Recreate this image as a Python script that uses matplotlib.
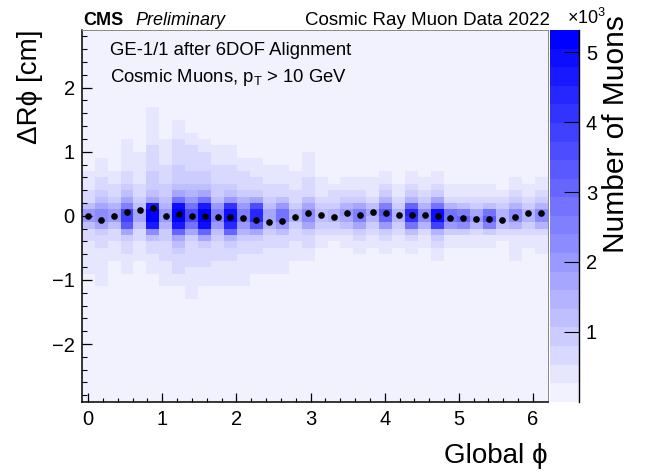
import numpy as np
import matplotlib.pyplot as plt
from matplotlib.colors import ListedColormap, BoundaryNorm
from matplotlib.ticker import MultipleLocator

plt.rcParams['font.family'] = ['Liberation Sans', 'DejaVu Sans']
plt.rcParams['mathtext.fontset'] = 'custom'
plt.rcParams['mathtext.rm'] = 'Liberation Sans'
plt.rcParams['mathtext.it'] = 'Liberation Sans:italic'

# histogram binning: 36 phi bins (one per chamber), 0.1 cm bins in delta R-phi
n_phi = 36
y_top = 1.7
y_step = 0.1
n_rows = 30
z_max = 5320
n_levels = 20

# colour level (0-9, a-j) of every filled cell, read column by column from the top row down
col_top_row = [10, 8, 10, 5, 7, 0, 5, 2, 4, 5, 6, 6, 8, 8, 9, 9, 10, 7,
               11, 12, 11, 11, 11, 10, 12, 10, 11, 10, 12, 12, 12, 12, 13, 11, 12, 11]
col_levels = [
    "1112247742211111",
    "11122346886322111111",
    "11223577422111",
    "11111223469eec6322111",
    "11111223466422111",
    "111111222233346hjjh8422111",
    "11112223345775332221111",
    "111222233346aijjhb64322211",
    "11222233457adda63222211111",
    "112223346ahjjib63222111",
    "1112223347997432221111",
    "111222347fiigb53221111",
    "11222357997532211111",
    "1112236dggc6322111",
    "11122346653221111",
    "1112247aa74221111",
    "11122355322111",
    "11112224688632211",
    "11123443211",
    "122355321",
    "11235764211",
    "112369963211",
    "11124653211",
    "112359cb73211",
    "1123553211",
    "11235bgfa4211",
    "11235885211",
    "11236aiie53211",
    "1125aa7311",
    "11249b8311",
    "1123675211",
    "1124ac9311",
    "12355421",
    "1123588521111",
    "1123553211",
    "112358852111",
]

# profile mean of delta R-phi per phi bin [cm]
mean_dphi = [-0.01, -0.07, 0.00, 0.06, 0.09, 0.13, -0.01, 0.03, 0.00, 0.00,
             -0.02, -0.02, -0.04, -0.06, -0.09, -0.08, -0.02, 0.04, 0.01, -0.02,
             0.04, 0.01, 0.06, 0.05, 0.02, 0.02, 0.01, -0.01, -0.04, -0.03,
             -0.05, -0.05, -0.06, -0.02, 0.05, 0.04]

cbar_ticks = [1000, 2000, 3000, 4000, 5000]
cbar_labels = ["1", "2", "3", "4", "5"]


def px(x, y):
    return x / 648, 1 - y / 476


def build_counts():
    grid = np.zeros((n_rows, n_phi))
    for k, (top, lev) in enumerate(zip(col_top_row, col_levels)):
        vals = [int(c, 36) for c in lev]
        grid[top:top + len(vals), k] = vals
    return (grid + 0.5) * z_max / n_levels


def main():
    counts = build_counts()
    bin_w = 2 * np.pi / n_phi
    x_edges = (np.arange(n_phi + 1) - 0.5) * bin_w
    y_edges = y_top - y_step * np.arange(n_rows + 1)

    colors = [(1 - (k + 1) / n_levels, 1 - (k + 1) / n_levels, 1.0) for k in range(n_levels)]
    cmap = ListedColormap(colors)
    norm = BoundaryNorm(np.linspace(0, z_max, n_levels + 1), n_levels)

    fig = plt.figure(figsize=(6.48, 4.76), dpi=100)
    l, b = px(81.7, 401.7)
    ax = fig.add_axes([l, b, (547.5 - 81.7) / 648, (401.7 - 30) / 476])
    ax.set_facecolor(colors[0])
    mesh = ax.pcolormesh(x_edges, y_edges, counts, cmap=cmap, norm=norm)
    ax.plot(np.arange(n_phi) * bin_w, mean_dphi, 'o', color='black', ms=4.8, mew=0)

    ax.set_xlim(x_edges[0], x_edges[-1])
    ax.set_ylim(-2.9, 2.9)
    ax.xaxis.set_major_locator(MultipleLocator(1))
    ax.xaxis.set_minor_locator(MultipleLocator(0.2))
    ax.yaxis.set_major_locator(MultipleLocator(1))
    ax.yaxis.set_minor_locator(MultipleLocator(0.2))
    ax.tick_params(axis='x', which='major', direction='in', length=6.5, width=0.9, labelsize=14.5, pad=6)
    ax.tick_params(axis='x', which='minor', direction='in', length=3, width=0.8)
    ax.tick_params(axis='y', which='major', direction='in', length=7.5, width=0.9, labelsize=14.5, pad=5)
    ax.tick_params(axis='y', which='minor', direction='in', length=3.8, width=0.8)
    ax.set_yticks([-2, -1, 0, 1, 2])
    ax.set_yticklabels(["\u22122", "\u22121", "0", "1", "2"])
    for side in ['left', 'bottom']:
        ax.spines[side].set_linewidth(1.1)
    for side in ['top', 'right']:
        ax.spines[side].set_linewidth(0.7)
        ax.spines[side].set_color('#888888')

    cax = fig.add_axes([549.5 / 648, b, 29.5 / 648, (401.7 - 30) / 476])
    cb = fig.colorbar(mesh, cax=cax, ticks=cbar_ticks)
    cb.ax.set_yticklabels(cbar_labels)
    cb.outline.set_visible(False)
    cax.tick_params(direction='in', length=11, width=0.8, labelsize=14.5, pad=5)
    cax.minorticks_off()
    cax.plot([1, 1], [0, 1], transform=cax.transAxes, color='black', lw=1, clip_on=False)

    fig.text(*px(83, 25), "CMS", fontsize=13, weight='bold', va='baseline')
    fig.text(*px(135, 25), "Preliminary", fontsize=13, style='italic', va='baseline')
    fig.text(*px(550, 25), "Cosmic Ray Muon Data 2022", fontsize=13.5, ha='right', va='baseline')
    fig.text(*px(110, 55), "GE-1/1 after 6DOF Alignment", fontsize=13.3, va='baseline')
    fig.text(*px(110, 81.5), r"Cosmic Muons, p$_{\mathregular{T}}$ > 10 GeV", fontsize=13.3, va='baseline')
    fig.text(*px(567, 24), r"$\times$10$^{3}$", fontsize=13, va='baseline')

    fig.text(*px(30, 30), "\u0394R\u03d5 [cm]", fontsize=20, rotation=90, ha='center', va='top')
    fig.text(*px(548, 463), "Global \u03d5", fontsize=20, ha='right', va='baseline')
    fig.text(*px(616, 15), "Number of Muons", fontsize=21.5, rotation=90, ha='center', va='top')

    fig.savefig("out.png", dpi=100)


if __name__ == "__main__":
    main()
